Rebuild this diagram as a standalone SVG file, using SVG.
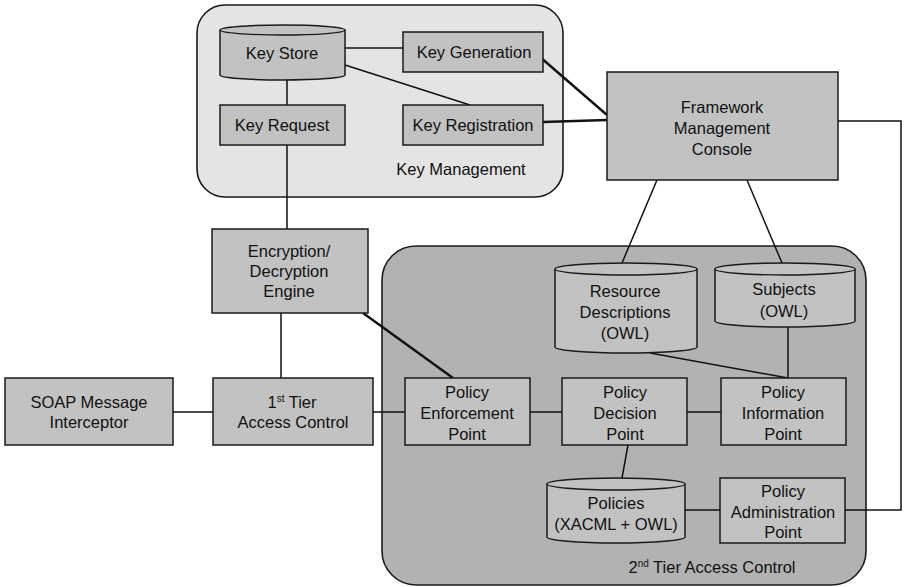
<svg xmlns="http://www.w3.org/2000/svg" width="904" height="587" viewBox="0 0 904 587">
  <style>
    .bg { fill: #ffffff; }
    .group-km { fill: #e4e4e4; stroke: #1a1a1a; stroke-width: 1.6; }
    .group-t2 { fill: #b2b2b2; stroke: #1a1a1a; stroke-width: 1.6; }
    .box { fill: #c2c2c2; stroke: #1a1a1a; stroke-width: 1.5; }
    .rim { fill: none; stroke: #1a1a1a; stroke-width: 1.3; }
    .lbl { font-family: "Liberation Sans", Arial, sans-serif; font-size: 16.5px; fill: #111; text-anchor: middle; }
    .sup { font-size: 10px; }
    .wire { fill: none; stroke: #111; stroke-width: 1.5; }
    .wire-bold { fill: none; stroke: #111; stroke-width: 2.4; }
  </style>

  <rect class="bg" x="0" y="0" width="904" height="587"/>

  <!-- Containers -->
  <g id="key-management">
    <rect class="group-km" x="197" y="5" width="366" height="192" rx="28" ry="28"/>
    <text class="lbl" x="461" y="175">Key Management</text>
  </g>
  <g id="tier2-access-control">
    <rect class="group-t2" x="382" y="246" width="484" height="339" rx="34" ry="34"/>
    <text class="lbl" x="712" y="573">2<tspan class="sup" dy="-6">nd</tspan><tspan dy="6"> Tier Access Control</tspan></text>
  </g>

  <!-- Connectors -->
  <g id="connectors">
    <line class="wire" x1="345" y1="48" x2="403" y2="48"/>
    <line class="wire" x1="345" y1="65" x2="470" y2="105"/>
    <line class="wire" x1="287" y1="80" x2="287" y2="105"/>
    <line class="wire" x1="287" y1="145" x2="287" y2="229"/>
    <line class="wire-bold" x1="540" y1="57" x2="607" y2="115"/>
    <line class="wire-bold" x1="543" y1="122" x2="607" y2="120"/>
    <line class="wire" x1="281" y1="313" x2="281" y2="378"/>
    <line class="wire-bold" x1="363" y1="313" x2="453" y2="378"/>
    <line class="wire" x1="173" y1="412" x2="213" y2="412"/>
    <line class="wire" x1="373" y1="412" x2="405" y2="412"/>
    <line class="wire" x1="530" y1="412" x2="562" y2="412"/>
    <line class="wire" x1="687" y1="412" x2="721" y2="412"/>
    <line class="wire" x1="628" y1="445" x2="622" y2="478"/>
    <line class="wire" x1="685" y1="510" x2="720" y2="510"/>
    <polyline class="wire" points="845,510 901,510 901,121 838,121"/>
    <line class="wire" x1="657" y1="180" x2="622" y2="263"/>
    <line class="wire" x1="747" y1="180" x2="782" y2="263"/>
    <line class="wire" x1="650" y1="353" x2="788" y2="378"/>
    <line class="wire" x1="788" y1="327" x2="788" y2="378"/>
  </g>

  <!-- Key management nodes -->
  <g id="key-store">
    <path class="box" d="M220,30 A62.5,5 0 0 1 345,30 V75 A62.5,5 0 0 1 220,75 Z"/>
    <path class="rim" d="M220,30 A62.5,5 0 0 0 345,30"/>
    <text class="lbl" x="282" y="59">Key Store</text>
  </g>
  <g id="key-generation">
    <rect class="box" x="403" y="32" width="140" height="40"/>
    <text class="lbl" x="474" y="58">Key Generation</text>
  </g>
  <g id="key-request">
    <rect class="box" x="220" y="105" width="125" height="40"/>
    <text class="lbl" x="282" y="131">Key Request</text>
  </g>
  <g id="key-registration">
    <rect class="box" x="403" y="105" width="140" height="40"/>
    <text class="lbl" x="473" y="131">Key Registration</text>
  </g>

  <!-- Management console -->
  <g id="framework-management-console">
    <rect class="box" x="607" y="72" width="231" height="108"/>
    <text class="lbl" x="722" y="113">Framework</text>
    <text class="lbl" x="722" y="134">Management</text>
    <text class="lbl" x="722" y="155">Console</text>
  </g>

  <!-- Front-end chain -->
  <g id="encryption-engine">
    <rect class="box" x="212" y="229" width="156" height="84"/>
    <text class="lbl" x="289" y="257">Encryption/</text>
    <text class="lbl" x="289" y="277">Decryption</text>
    <text class="lbl" x="289" y="297">Engine</text>
  </g>
  <g id="soap-interceptor">
    <rect class="box" x="5" y="378" width="168" height="67"/>
    <text class="lbl" x="89" y="408">SOAP Message</text>
    <text class="lbl" x="89" y="428">Interceptor</text>
  </g>
  <g id="tier1-access-control">
    <rect class="box" x="213" y="378" width="160" height="67"/>
    <text class="lbl" x="292" y="408">1<tspan class="sup" dy="-6">st</tspan><tspan dy="6"> Tier</tspan></text>
    <text class="lbl" x="293" y="428">Access Control</text>
  </g>

  <!-- Second tier nodes -->
  <g id="resource-descriptions">
    <path class="box" d="M555,269 A71,6 0 0 1 697,269 V347 A71,6 0 0 1 555,347 Z"/>
    <path class="rim" d="M555,269 A71,6 0 0 0 697,269"/>
    <text class="lbl" x="625" y="297">Resource</text>
    <text class="lbl" x="625" y="318">Descriptions</text>
    <text class="lbl" x="625" y="339">(OWL)</text>
  </g>
  <g id="subjects">
    <path class="box" d="M715,269 A70,6 0 0 1 855,269 V321 A70,6 0 0 1 715,321 Z"/>
    <path class="rim" d="M715,269 A70,6 0 0 0 855,269"/>
    <text class="lbl" x="784" y="295">Subjects</text>
    <text class="lbl" x="784" y="317">(OWL)</text>
  </g>
  <g id="pep">
    <rect class="box" x="405" y="378" width="125" height="67"/>
    <text class="lbl" x="467" y="398">Policy</text>
    <text class="lbl" x="467" y="419">Enforcement</text>
    <text class="lbl" x="467" y="440">Point</text>
  </g>
  <g id="pdp">
    <rect class="box" x="562" y="378" width="125" height="67"/>
    <text class="lbl" x="625" y="398">Policy</text>
    <text class="lbl" x="625" y="419">Decision</text>
    <text class="lbl" x="625" y="440">Point</text>
  </g>
  <g id="pip">
    <rect class="box" x="721" y="378" width="125" height="67"/>
    <text class="lbl" x="783" y="398">Policy</text>
    <text class="lbl" x="783" y="419">Information</text>
    <text class="lbl" x="783" y="440">Point</text>
  </g>
  <g id="policies">
    <path class="box" d="M547,484 A69,6 0 0 1 685,484 V537 A69,6 0 0 1 547,537 Z"/>
    <path class="rim" d="M547,484 A69,6 0 0 0 685,484"/>
    <text class="lbl" x="616" y="509">Policies</text>
    <text class="lbl" x="616" y="530">(XACML + OWL)</text>
  </g>
  <g id="pap">
    <rect class="box" x="720" y="478" width="125" height="65"/>
    <text class="lbl" x="783" y="497">Policy</text>
    <text class="lbl" x="783" y="518">Administration</text>
    <text class="lbl" x="783" y="538">Point</text>
  </g>
</svg>
